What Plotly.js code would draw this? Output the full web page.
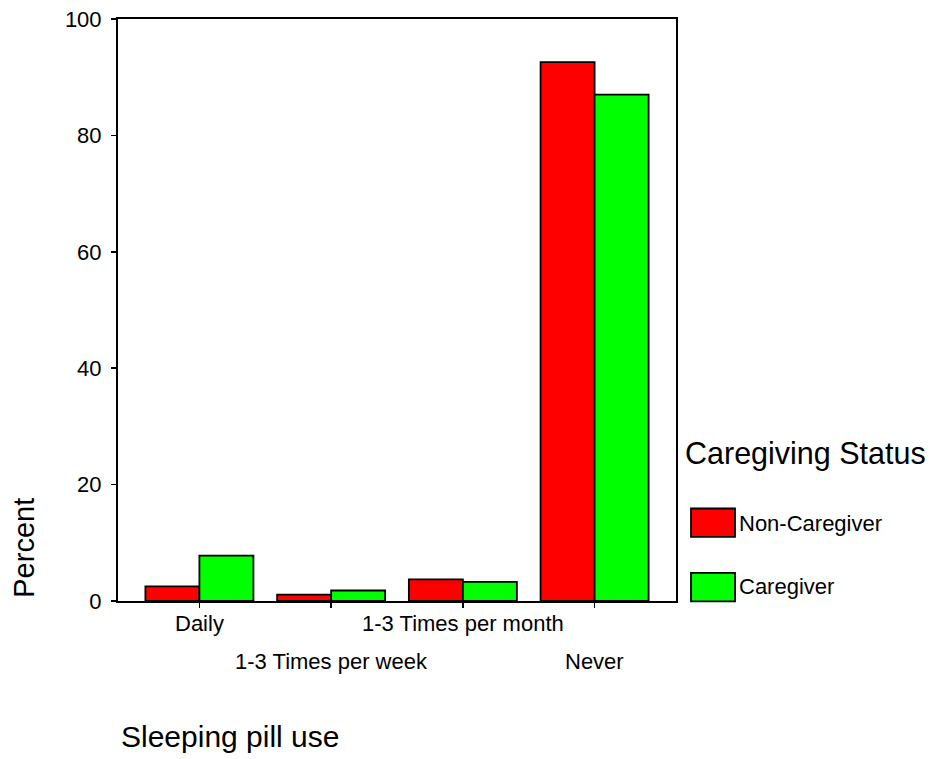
<!DOCTYPE html>
<html>
<head>
<meta charset="utf-8">
<script src="https://cdn.plot.ly/plotly-3.0.1.min.js"></script>
<style>
html,body{margin:0;padding:0;background:#fff;}
#chart{width:931px;height:759px;}
</style>
</head>
<body>
<div id="chart"></div>
<script>
// ---- Data ----
const categories = ["Daily", "1-3 Times per week", "1-3 Times per month", "Never"];
const tickRow = [0, 1, 0, 1]; // staggered label rows
const seriesNames = ["Non-Caregiver", "Caregiver"];
const nonCaregiver = [2.5, 1.1, 3.7, 92.6];
const caregiver = [7.8, 1.8, 3.3, 87.0];
const seriesColors = ["#FF0000", "#00FF00"];
const yTicks = [0, 20, 40, 60, 80, 100];
const xTitle = "Sleeping pill use";
const yTitle = "Percent";
const legendTitle = "Caregiving Status";

// ---- Layout geometry (pixels) ----
const W = 931, H = 759;
const L = 118, R = 676, T = 19.3, B = 600.7;
const px = x => (x - L) / (R - L);
const py = y => (B - y) / (B - T);
const FONT = "Arial, 'Liberation Sans', sans-serif";

const values = [nonCaregiver, caregiver];
const traces = seriesNames.map((name, i) => ({
  type: "bar",
  name: name,
  x: categories.map((c, k) => k),
  y: values[i],
  marker: { color: seriesColors[i], line: { color: "#000", width: 1.8 } },
  hoverinfo: "x+y+name"
}));

const annotations = [];
categories.forEach((c, k) => {
  annotations.push({
    x: k, xref: "x", y: py(tickRow[k] ? 661.5 : 623.5), yref: "paper",
    text: c, showarrow: false, xanchor: "center", yanchor: "middle",
    font: { family: FONT, size: 22, color: "#000" }
  });
});
annotations.push({
  x: px(119), xref: "paper", y: py(736.5), yref: "paper", text: xTitle,
  showarrow: false, xanchor: "left", yanchor: "middle",
  font: { family: FONT, size: 30, color: "#000" }
});
annotations.push({
  x: px(24), xref: "paper", y: py(547.5), yref: "paper", text: yTitle,
  textangle: -90, showarrow: false, xanchor: "center", yanchor: "middle",
  font: { family: FONT, size: 29, color: "#000" }
});
annotations.push({
  x: px(683), xref: "paper", y: py(453.5), yref: "paper", text: legendTitle,
  showarrow: false, xanchor: "left", yanchor: "middle",
  font: { family: FONT, size: 30.5, color: "#000" }
});
const legendRows = [[508.3, 536.7, 523.3], [572.7, 601, 586.7]];
const shapes = [];
seriesNames.forEach((n, i) => {
  const r = legendRows[i];
  shapes.push({
    type: "rect", xref: "paper", yref: "paper",
    x0: px(691), x1: px(735), y0: py(r[1]), y1: py(r[0]),
    fillcolor: seriesColors[i], line: { color: "#000", width: 1.8 }
  });
  annotations.push({
    x: px(737), xref: "paper", y: py(r[2]), yref: "paper", text: n,
    showarrow: false, xanchor: "left", yanchor: "middle",
    font: { family: FONT, size: 22, color: "#000" }
  });
});

const layout = {
  width: W, height: H,
  margin: { l: L, r: W - R, t: T, b: H - B, pad: 0 },
  paper_bgcolor: "#fff", plot_bgcolor: "#fff",
  showlegend: false,
  barmode: "group", bargap: 0.18, bargroupgap: 0,
  font: { family: FONT, size: 22, color: "#000" },
  xaxis: {
    type: "linear", range: [-0.618, 3.618],
    tickvals: categories.map((c, k) => k), ticktext: categories.map(() => ""),
    showticklabels: false,
    ticks: "outside", ticklen: 5, tickwidth: 1.5, tickcolor: "#000",
    showline: true, linecolor: "#000", linewidth: 2, mirror: true,
    showgrid: false, zeroline: false, fixedrange: true
  },
  yaxis: {
    range: [0, 100], tickvals: yTicks, ticktext: yTicks.map(String),
    ticks: "outside", ticklen: 5, tickwidth: 1.5, tickcolor: "#000",
    ticklabelstandoff: 5,
    tickfont: { family: FONT, size: 22, color: "#000" },
    showline: true, linecolor: "#000", linewidth: 2, mirror: true,
    showgrid: false, zeroline: false, fixedrange: true
  },
  annotations: annotations,
  shapes: shapes
};

Plotly.newPlot("chart", traces, layout, { displayModeBar: false, staticPlot: true });
</script>
</body>
</html>
